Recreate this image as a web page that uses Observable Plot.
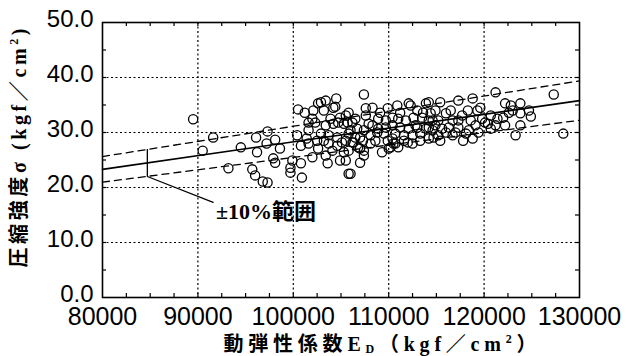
<!DOCTYPE html>
<html><head><meta charset="utf-8">
<script src="https://cdn.jsdelivr.net/npm/d3@7"></script>
<script src="https://cdn.jsdelivr.net/npm/@observablehq/plot@0.6"></script>
<style>body{margin:0;background:#fff}</style>
</head><body><div id="chart"></div>
<script>
// Dynamic modulus of elasticity E_D (kgf/cm²)
const edValues = [
  89500, 91600, 90500, 94500, 93200, 96100, 97300, 98100, 97200, 96200,
  98600, 95700, 96000, 96800, 97300, 98100, 99700, 99900, 100800, 100900,
  102000, 100400, 100500, 101200, 101600, 102900, 103400, 104500, 104400, 103200,
  102300, 103400, 102900, 103700, 103200, 103700, 104100, 105100, 105500, 105700,
  104700, 104900, 103600, 105800, 101600, 100800, 102500, 99700, 97900, 101600,
  102000,
  107400, 108300, 105800, 110900, 112300, 113900, 107600, 106200, 107900, 108900,
  109700, 110400, 111000, 111800, 112600, 113500, 114200, 108900, 109700, 110400,
  111200, 112100, 113000, 113900, 108800, 109500, 110700, 111600, 112500, 113300,
  105800, 106500, 107300, 106200, 106800, 107400, 105800, 110400, 110500, 110000,
  109300, 111000, 112000, 112500, 108100, 107000, 106000, 105500, 108600,
  121200, 122200, 117300, 118800, 115400, 114200, 119600, 119300, 118300, 116500,
  116000, 114900, 114400, 120100, 121400, 122000, 120400, 118100, 118400, 117000,
  116300, 115600, 114900, 114200, 117800, 118800, 116000, 116700, 115200, 114200,
  119100, 117300, 116700, 115200, 114600, 120700, 119800,
  127300, 123800, 124900, 123800, 123000, 122600, 122200, 123300, 128300, 122800,
  104900, 105300, 104200, 106000, 106700, 107400, 104600, 105500, 106300, 107000,
  104600, 105300, 107000, 107400, 110200, 110700, 111600, 112100, 102600, 104200,
  108300, 108100, 109900, 112800, 113300, 114600, 117300, 117700, 118600, 120700,
  121200, 115400, 103900, 102100, 101400, 102600, 103400, 109100, 109900, 106500,
  113000, 113600, 111200, 114700, 119400, 123800, 124700, 107600
];
// Compressive strength σ (kgf/cm²)
const sigmaValues = [
  32.4, 29.1, 26.7, 27.3, 23.5, 29.1, 30.2, 28.7, 28.0, 26.4,
  27.1, 23.3, 22.2, 21.1, 20.9, 24.5, 23.6, 24.9, 24.4, 21.8,
  25.5, 29.5, 34.2, 33.6, 31.8, 35.5, 35.8, 36.2, 34.7, 34.0,
  31.8, 31.3, 29.8, 29.5, 28.5, 28.0, 26.7, 28.2, 33.1, 31.8,
  31.8, 24.9, 24.4, 22.5, 28.0, 27.6, 28.5, 22.7, 25.3, 30.4,
  32.5,
  36.9, 34.5, 33.6, 34.9, 34.9, 35.3, 33.1, 31.8, 31.6, 32.5,
  32.2, 32.7, 32.5, 32.2, 32.7, 32.7, 32.2, 30.7, 30.9, 31.3,
  30.9, 30.7, 30.9, 30.7, 30.0, 29.8, 29.8, 29.5, 29.5, 29.8,
  29.8, 29.1, 28.5, 28.2, 27.3, 26.7, 26.7, 28.9, 28.0, 27.1,
  26.4, 27.3, 28.2, 28.0, 28.0, 24.5, 22.5, 24.9, 28.5,
  37.3, 35.3, 35.8, 36.2, 35.5, 35.5, 34.5, 34.0, 34.0, 34.0,
  33.5, 34.0, 33.5, 31.8, 32.5, 32.7, 31.6, 29.8, 30.4, 30.0,
  30.9, 30.7, 31.3, 30.9, 28.5, 28.9, 30.0, 29.5, 29.5, 28.9,
  31.3, 32.2, 32.2, 32.2, 32.2, 33.1, 32.5,
  36.9, 35.3, 32.9, 33.5, 34.0, 33.6, 31.3, 29.5, 29.8, 34.9,
  32.7, 31.6, 31.6, 30.4, 30.7, 30.4, 29.1, 28.5, 28.2, 29.1,
  27.6, 26.4, 27.1, 25.8, 27.3, 28.0, 28.5, 35.3, 35.3, 34.5,
  31.3, 29.5, 28.5, 31.3, 28.5, 30.4, 30.9, 33.1, 32.2, 30.7,
  31.3, 28.5, 32.5, 34.0, 28.9, 27.1, 25.8, 33.6, 34.4, 32.5,
  34.0, 33.6, 33.6, 29.1, 30.0, 31.3, 34.0, 34.4
];
// Regression line and ±10% band
const fitX = [80000, 130000];
const fitY = [23.3, 35.8];
const bandRatio = 0.10;
// Annotation
const annoBarX = [84700];
const annoBarY = [22.0, 26.9];
const annoLeaderX = [84700, 91600];
const annoLeaderY = [22.0, 17.3];
const annoLabel = "±10%範囲";
const annoLabelX = 91900;
const annoLabelY = 15.6;
// Ticks
const xTicks = [80000, 90000, 100000, 110000, 120000, 130000];
const yTicks = [0, 10, 20, 30, 40, 50];
const xGrid = [90000, 100000, 110000, 120000];
const yGrid = [10, 20, 30, 40];
const xMinor = [82500, 85000, 87500, 90000, 92500, 95000, 97500, 100000, 102500, 105000, 107500, 110000, 112500, 115000, 117500, 120000, 122500, 125000, 127500];
const yMinor = [5, 10, 15, 20, 25, 30, 35, 40, 45];

const points = edValues.map((x, i) => ({x, y: sigmaValues[i]}));
const fit = fitX.map((x, i) => ({x, y: fitY[i], up: fitY[i] * (1 + bandRatio), lo: fitY[i] * (1 - bandRatio)}));
const leader = annoLeaderX.map((x, i) => ({x, y: annoLeaderY[i]}));

const serifJP = "'Liberation Serif', 'Noto Sans CJK JP', serif";
const gridStyle = {stroke: "black", strokeOpacity: 1, strokeWidth: 1.2, strokeDasharray: "2,2.5"};

const plot = Plot.plot({
  width: 626, height: 356,
  marginLeft: 102, marginRight: 47, marginTop: 22, marginBottom: 59,
  x: {domain: [80000, 130000], label: null},
  y: {domain: [0, 50], label: null},
  style: {fontFamily: "'Liberation Sans', sans-serif", background: "white", color: "black"},
  marks: [
    Plot.gridX(xGrid, gridStyle),
    Plot.gridY(yGrid, gridStyle),
    Plot.line(fit, {x: "x", y: "y", stroke: "black", strokeWidth: 1.6}),
    Plot.line(fit, {x: "x", y: "up", stroke: "black", strokeWidth: 1.3, strokeDasharray: "7,5"}),
    Plot.line(fit, {x: "x", y: "lo", stroke: "black", strokeWidth: 1.3, strokeDasharray: "7,5"}),
    Plot.ruleX(annoBarX, {x: d => d, y1: annoBarY[0], y2: annoBarY[1], stroke: "black", strokeWidth: 1.3}),
    Plot.line(leader, {x: "x", y: "y", stroke: "black", strokeWidth: 1.3}),
    Plot.dot(points, {x: "x", y: "y", r: 4.6, stroke: "black", strokeWidth: 1.3, fill: "none"}),
    Plot.text([annoLabel], {x: annoLabelX, y: annoLabelY, text: d => d, textAnchor: "start", fontSize: 22, fontWeight: "bold", fontFamily: serifJP, fill: "black"}),
    Plot.frame({stroke: "black", strokeWidth: 1.6}),
    Plot.ruleX(xMinor, {x: d => d, y1: 0, y2: 0, insetBottom: 4, stroke: "black", strokeWidth: 1.2}),
    Plot.ruleX(xMinor, {x: d => d, y1: 50, y2: 50, insetTop: 4, stroke: "black", strokeWidth: 1.2}),
    Plot.ruleY(yMinor, {y: d => d, x1: 80000, x2: 80000, insetLeft: 4, stroke: "black", strokeWidth: 1.2}),
    Plot.ruleY(yMinor, {y: d => d, x1: 130000, x2: 130000, insetRight: 4, stroke: "black", strokeWidth: 1.2}),
    Plot.axisX(xTicks, {tickSize: 0, tickPadding: 10, tickFormat: d3.format("d"), fontSize: 25, fill: "black"}),
    Plot.axisY(yTicks, {tickSize: 0, tickPadding: 9, tickFormat: d3.format(".1f"), fontSize: 24, fill: "black", dy: -3})
  ]
});
document.getElementById("chart").appendChild(plot);

// Axis titles (with sub/superscripts)
const svg = d3.select(plot);
const xt = svg.append("text")
  .attr("x", 380).attr("y", 351)
  .attr("text-anchor", "middle")
  .attr("font-family", serifJP).attr("font-size", 20).attr("font-weight", "bold")
  .attr("fill", "black")
  .attr("textLength", 313).attr("lengthAdjust", "spacing");
xt.append("tspan").text("動弾性係数E");
xt.append("tspan").attr("font-size", 12).attr("dy", 2).text("D");
xt.append("tspan").attr("dy", -2).text("（kgf／cm");
xt.append("tspan").attr("font-size", 12).attr("dy", -8).text("2");
xt.append("tspan").attr("dy", 8).text("）");

const yt = svg.append("text")
  .attr("transform", "translate(26,148) rotate(-90)")
  .attr("text-anchor", "middle")
  .attr("font-family", serifJP).attr("font-size", 20).attr("font-weight", "bold")
  .attr("fill", "black")
  .attr("textLength", 239).attr("lengthAdjust", "spacing");
yt.append("tspan").text("圧縮強度σ (kgf／cm");
yt.append("tspan").attr("font-size", 12).attr("dy", -8).text("2");
yt.append("tspan").attr("dy", 8).text(")");
</script>
</body></html>
